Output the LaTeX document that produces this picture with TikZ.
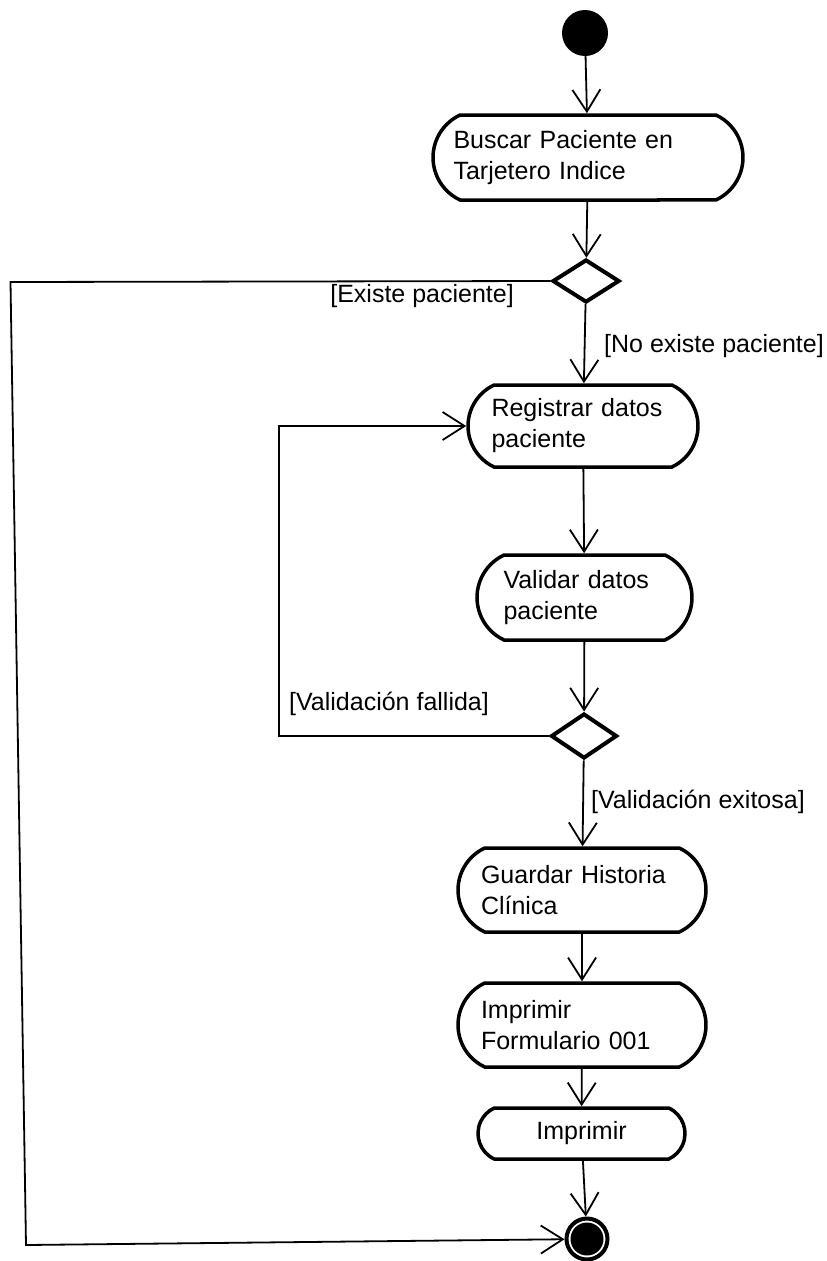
\documentclass[tikz,border=0pt]{standalone}
\usepackage{fontspec}
\setmainfont{Liberation Sans}
\usetikzlibrary{shapes.geometric,shapes.misc,arrows.meta}
\begin{document}
\begin{tikzpicture}[x=1pt,y=-1pt,
  font=\fontsize{25}{31}\selectfont,
  flow/.style={line width=1.8pt,-{Straight Barb[length=22pt,width=28pt]}},
  action/.style={draw,line width=3.5pt,rounded rectangle,rounded rectangle arc length=130,
                 inner xsep=0pt,inner ysep=0pt,align=left},
  pull left/.style={execute at begin node={\leftskip=-#1\relax}},
  decision/.style={draw,diamond,line width=4pt,inner sep=0pt},
  guard/.style={inner sep=0pt}]
\useasboundingbox (0,0) rectangle (827,1261);

% initial and final states
\node[circle,fill=black,minimum size=46pt,inner sep=0pt] (start) at (585,33) {};
\node[circle,draw,line width=4pt,fill=white,minimum size=41pt,inner sep=0pt,
      path picture={\fill[black] (path picture bounding box.center) circle (16.5pt);}]
      (fin) at (587,1239) {};

% activities
\node[action,minimum width=310pt,minimum height=85pt,text width=255pt,pull left=7pt] (b1) at (588,157.5)
  {Buscar Paciente en\\Tarjetero Indice};
\node[action,minimum width=230pt,minimum height=82pt,text width=177pt,pull left=3pt] (b2) at (583,426)
  {Registrar datos\\paciente};
\node[action,minimum width=215pt,minimum height=85pt,text width=160pt,pull left=1pt] (b3) at (584.5,597.5)
  {Validar datos\\paciente};
\node[action,minimum width=248pt,minimum height=84pt,text width=194pt,pull left=4pt] (b4) at (582,890)
  {Guardar Historia\\Clínica};
\node[action,minimum width=248pt,minimum height=84pt,text width=194pt,pull left=4pt] (b5) at (582,1025)
  {Imprimir\\Formulario 001};
\node[action,minimum width=207pt,minimum height=51pt,text width=174pt,align=center] (b6) at (581.5,1133.5)
  {Imprimir};

% decisions
\node[decision,minimum width=67pt,minimum height=43pt] (d1) at (586,281) {};
\node[decision,minimum width=66pt,minimum height=45pt] (d2) at (584,736) {};

% guards
\node[guard,anchor=east] (gexiste) at (514,296) {[Existe paciente]};
\node[guard,anchor=west] (gnoexiste) at (604,346) {[No existe paciente]};
\node[guard,anchor=west] (gfallida) at (289,704) {[Validación fallida]};
\node[guard,anchor=west] (gexitosa) at (591,802) {[Validación exitosa]};

% bend points of the return paths
\coordinate (e1) at (10.5,282);
\coordinate (e2) at (26,1245);
\coordinate (f1) at (279,736);

% main flow
\draw[flow] (start) -- (b1);
\draw[flow] (b1) -- (d1);
\draw[flow] (d1) -- (b2);
\draw[flow] (b2) -- (b3);
\draw[flow] (b3) -- (d2);
\draw[flow] (d2) -- (b4);
\draw[flow] (b4) -- (b5);
\draw[flow] (b5) -- (b6);
\draw[flow] (b6) -- (fin);

% branches
\draw[flow] (d1.west) -- (e1) -- (e2) -- (fin);
\draw[flow] (d2.west) -- (f1) |- (b2);
\end{tikzpicture}
\end{document}
